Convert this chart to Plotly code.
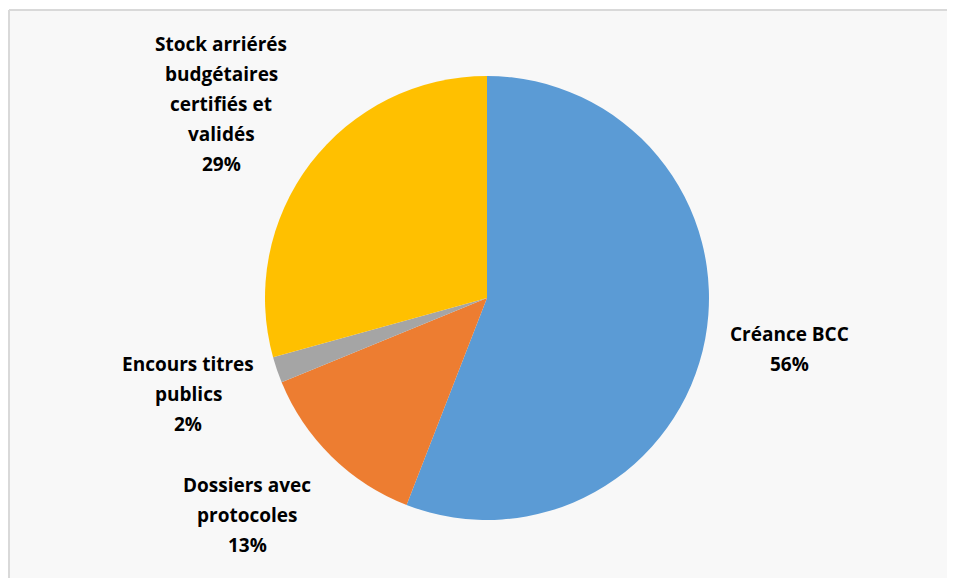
import plotly.graph_objects as go

categories = ["Créance BCC", "Dossiers avec protocoles", "Encours titres publics",
              "Stock arriérés budgétaires certifiés et validés"]
values = [55.9, 12.9, 1.9, 29.3]
colors = ["#5B9BD5", "#ED7D31", "#A5A5A5", "#FFC000"]
label_lines = [["Créance BCC"], ["Dossiers avec", "protocoles"], ["Encours titres", "publics"],
               ["Stock arriérés", "budgétaires", "certifiés et", "validés"]]

OFF = 8  # page body margin
W, H = 955 - OFF, 578 - OFF
# label centre positions in window pixels
label_pos = [(789, 349), (247, 515), (188, 394), (221, 104)]
line_gap = 30


def px(x):
    return (x - OFF) / W


def py(y):
    return 1 - (y - OFF) / H


fig = go.Figure(go.Pie(
    labels=categories, values=values, sort=False, direction="clockwise", rotation=0,
    marker=dict(colors=colors, line=dict(color="white", width=0)),
    textinfo="none", hoverinfo="label+percent", showlegend=False,
    domain=dict(x=[px(265), px(709)], y=[py(520), py(76)]),
))

total = sum(values)
annotations = []
for lines, v, (cx, cy) in zip(label_lines, values, label_pos):
    all_lines = lines + [f"{round(100 * v / total)}%"]
    n = len(all_lines)
    for i, t in enumerate(all_lines):
        y = cy + (i - (n - 1) / 2) * line_gap
        annotations.append(dict(
            x=px(cx), y=py(y), xref="paper", yref="paper", text=f"<b>{t}</b>",
            showarrow=False, xanchor="center", yanchor="middle",
            font=dict(family="Open Sans", size=19, color="#000000")))

fig.update_layout(
    width=W, height=H, margin=dict(l=0, r=0, t=0, b=0),
    paper_bgcolor="white", plot_bgcolor="white",
    annotations=annotations,
    shapes=[
        dict(type="rect", xref="paper", yref="paper", x0=px(9), x1=1,
             y0=0, y1=py(10), line=dict(width=0),
             fillcolor="#f8f8f8", layer="below"),
        dict(type="line", xref="paper", yref="paper", x0=px(9), x1=1,
             y0=py(10), y1=py(10), line=dict(color="#d9d9d9", width=2), layer="below"),
        dict(type="line", xref="paper", yref="paper", x0=px(9), x1=px(9),
             y0=0, y1=py(10), line=dict(color="#d9d9d9", width=2), layer="below"),
    ],
)
fig.write_html("out.html")
